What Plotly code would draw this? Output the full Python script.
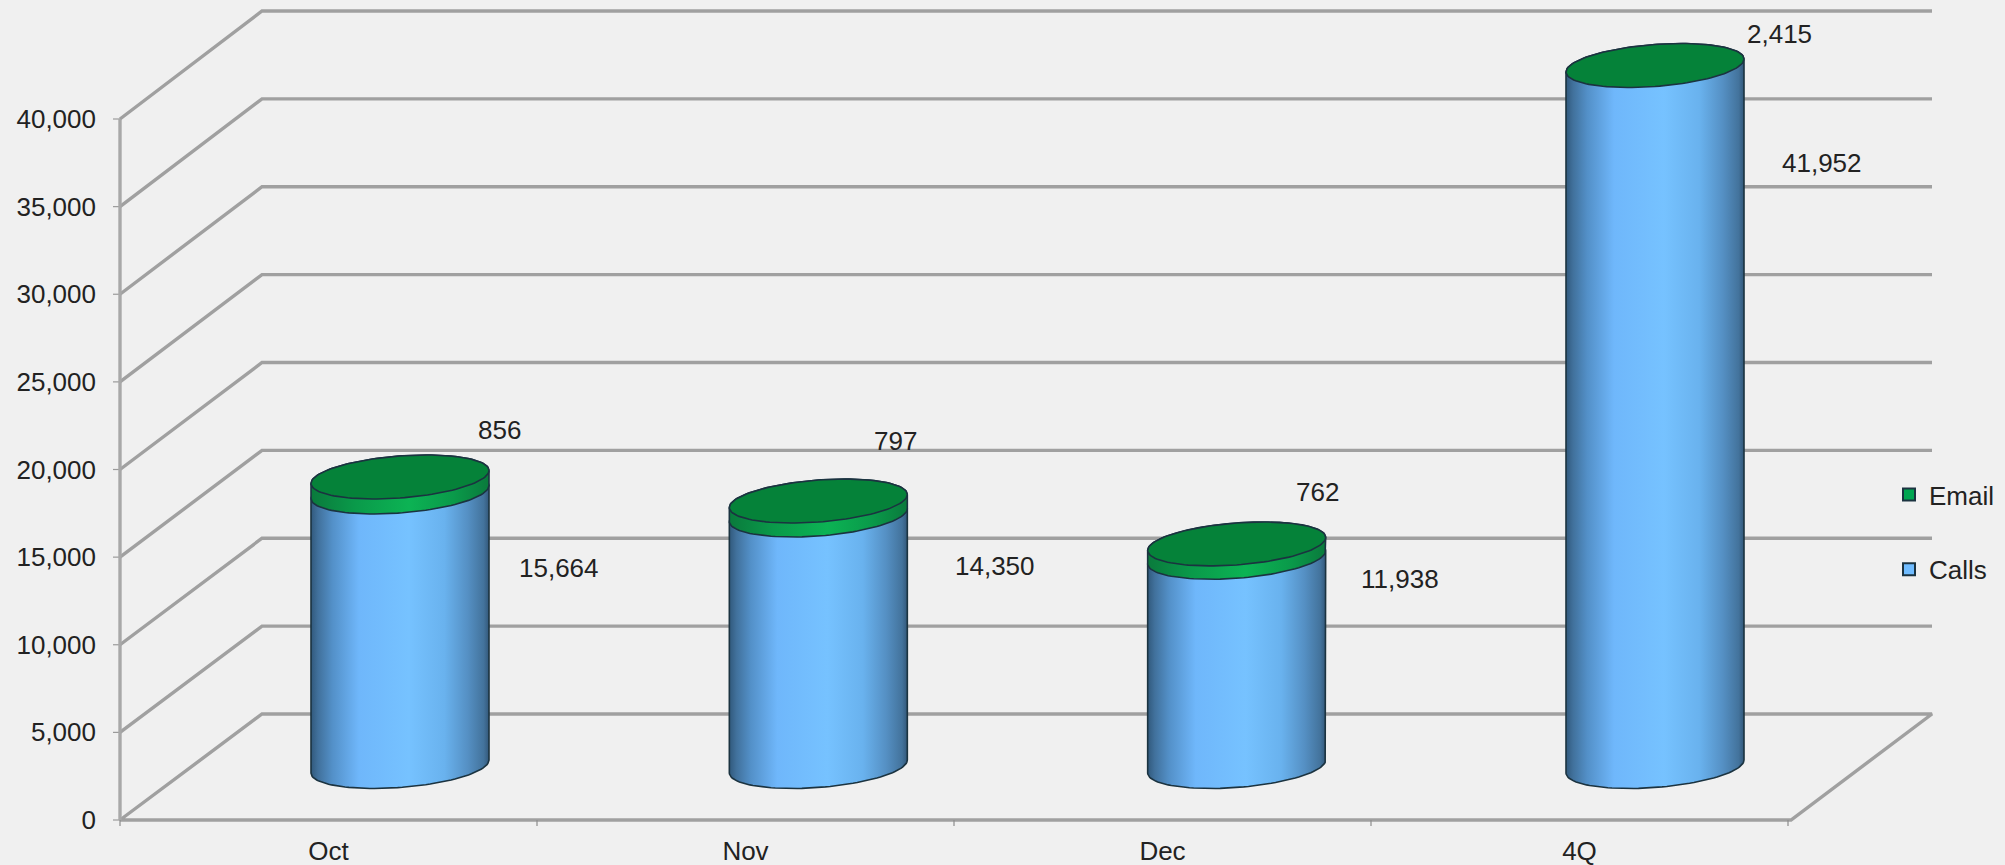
import numpy as np
import plotly.graph_objects as go

# ---- data ----
categories = ["Oct", "Nov", "Dec", "4Q"]
calls = [15664, 14350, 11938, 41952]
email = [856, 797, 762, 2415]
y_ticks = [0, 5000, 10000, 15000, 20000, 25000, 30000, 35000, 40000]
axis_max = 40000

# ---- label placement (pixel nudges from each cylinder's centre / stack level) ----
calls_shift_x = [159, 177, 163, 167]
calls_shift_y = [-23, 3, 32, -44]
email_shift_x = [99, 77, 81, 124]
email_shift_y = [100, 114, 105, 85]

# ---- pixel geometry of the axes ----
W, H = 2005, 865
ORIGIN_X, ORIGIN_Y = 120, 820   # where (0, 0) falls on the page
PAD = 8                         # room kept round the origin so lines are not clipped
L, B = ORIGIN_X - PAD, H - ORIGIN_Y - PAD
PX_X = 417.0               # px per category
PX_Y = 0.017525            # px per value unit
PW, PH = W - L, H - B
u = lambda px: px / PX_X   # px -> x units
v = lambda px: px / PX_Y   # px -> y units

BG = "#f0f0f0"
GRID = "#a0a0a0"
TXT = "#222222"
EDGE = "#1b3340"
FONT = "Liberation Sans, Arial, sans-serif"

fig = go.Figure()


def depth_y(val):
    return v(106 + 2 * val / axis_max)


def seg(xs, ys, color, width):
    fig.add_trace(go.Scatter(x=xs, y=ys, mode="lines", showlegend=False, hoverinfo="skip",
                             line=dict(color=color, width=width)))


# walls
back_x0, back_x1 = u(142), u(1812)
floor_x1 = u(1671)
for t in y_ticks:
    d = depth_y(t)
    if t == 0:
        seg([0, back_x0, back_x1, floor_x1, 0], [0, d, d, 0, 0], GRID, 3.4)
    else:
        seg([0, back_x0, back_x1], [t, t + d, t + d], GRID, 3.4)
    seg([-u(7), 0], [t, t], "#9a9a9a", 1.2)            # value-axis tick
# value axis line
seg([0, 0], [0, axis_max], "#a8a8a8", 3.4)
# category-axis ticks
for i in range(len(categories) + 1):
    seg([i, i], [0, -v(6)], "#8c8c8c", 1.2)

# cylinders
A, S, BB = u(89), v(6.5), v(21)
MID = v(53.5)
tt_upper = np.linspace(np.pi, 0, 60)
tt_lower = np.linspace(0, -np.pi, 60)
tt_full = np.linspace(0, 2 * np.pi, 121)


def ell(cx, lvl, t):
    return cx + A * np.cos(t), lvl + MID + S * np.cos(t) + BB * np.sin(t)


def side(cx, lo, hi, scale, name):
    x1, y1 = ell(cx, hi, tt_upper)
    x2, y2 = ell(cx, lo, tt_lower)
    fig.add_trace(go.Scatter(
        x=np.r_[x1, x2, x1[0]], y=np.r_[y1, y2, y1[0]], mode="lines", fill="toself",
        line=dict(color=EDGE, width=1.6), showlegend=False, hoverinfo="skip", name=name,
        fillgradient=dict(type="horizontal", colorscale=scale)))


blue = [[0, "#31597c"], [0.04, "#41719c"], [0.12, "#5390c8"], [0.27, "#6fb7fb"],
        [0.55, "#76c2ff"], [0.75, "#69b2ee"], [0.88, "#5590c4"], [0.97, "#43739c"], [1, "#33587a"]]
green = [[0, "#0a7a3c"], [0.25, "#0a9a4a"], [0.55, "#0cb354"], [0.8, "#0a9a4a"], [1, "#0a7a3c"]]

for i, cat in enumerate(categories):
    cx = i + 0.5 + u(71.5) + i * 0.0032
    top_calls = min(calls[i], axis_max)
    top_all = min(calls[i] + email[i], axis_max)
    side(cx, 0, top_calls, blue, "Calls " + cat)
    if top_all > top_calls:
        side(cx, top_calls, top_all, green, "Email " + cat)
    ex, ey = ell(cx, top_all, tt_full)
    fig.add_trace(go.Scatter(x=ex, y=ey, mode="lines", fill="toself", fillcolor="#058239",
                             line=dict(color=EDGE, width=1.6), showlegend=False, hoverinfo="skip"))
    fig.add_annotation(x=cx, y=top_calls, text=f"{calls[i]:,}", showarrow=False,
                       xshift=calls_shift_x[i], yshift=calls_shift_y[i],
                       font=dict(size=26, color=TXT, family=FONT))
    fig.add_annotation(x=cx, y=top_all, text=f"{email[i]:,}", showarrow=False,
                       xshift=email_shift_x[i], yshift=email_shift_y[i],
                       font=dict(size=26, color=TXT, family=FONT))

# legend entries
for name, col in [("Email", "#00a651"), ("Calls", "#70bcff")]:
    fig.add_trace(go.Scatter(x=[None], y=[None], mode="markers", name=name, legendgroup=name,
                             marker=dict(symbol="square", size=14, color=col,
                                         line=dict(color=EDGE, width=1.6))))

fig.update_layout(
    width=W, height=H, paper_bgcolor=BG, plot_bgcolor=BG,
    margin=dict(l=L, r=0, t=0, b=B, pad=0),
    font=dict(family=FONT, size=26, color=TXT),
    showlegend=True,
    legend=dict(x=(1889 - L) / PW, xanchor="left", y=(PH - 471) / PH, yanchor="top",
                bgcolor="rgba(0,0,0,0)", tracegroupgap=38, itemsizing="constant",
                font=dict(size=26, color=TXT, family=FONT), traceorder="grouped"),
    xaxis=dict(range=[-u(PAD), u(W - ORIGIN_X)], showgrid=False, zeroline=False, showline=False,
               tickmode="array", tickvals=[i + 0.5 for i in range(len(categories))],
               ticktext=categories, ticks="", ticklabelstandoff=5,
               tickfont=dict(size=26, color=TXT, family=FONT)),
    yaxis=dict(range=[-v(PAD), v(ORIGIN_Y)], showgrid=False, zeroline=False, showline=False,
               tickmode="array", tickvals=y_ticks, ticktext=[f"{t:,}" for t in y_ticks],
               ticks="", ticklabelstandoff=15,
               tickfont=dict(size=26, color=TXT, family=FONT)),
)

fig.write_html("out.html", config=dict(displayModeBar=False),
               post_script="document.body.style.margin='0';document.body.style.overflow='hidden';")
